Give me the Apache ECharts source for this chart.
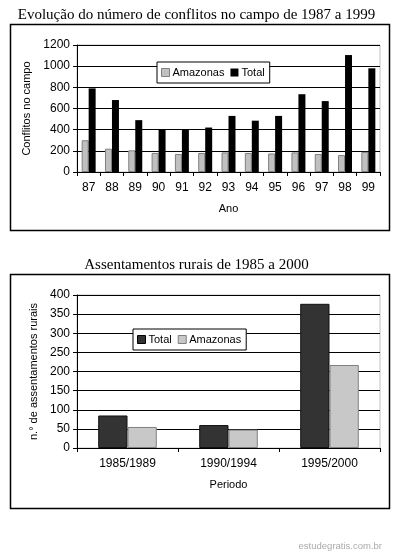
<!DOCTYPE html>
<html><head><meta charset="utf-8">
<script src="https://cdn.jsdelivr.net/npm/echarts@6/dist/echarts.min.js"></script>
<style>html,body{margin:0;padding:0;background:#fff}#c{width:393px;height:554px}</style>
</head><body><div id="c"></div>
<script>
var years = ['87','88','89','90','91','92','93','94','95','96','97','98','99'];
var conflitosAmazonas = [300,220,205,180,170,180,185,180,175,185,170,160,190];
var conflitosTotal = [790,680,490,400,400,420,530,485,530,735,670,1105,980];
var yTicks1 = {min:0, max:1200, interval:200};

var periodos = ['1985/1989','1990/1994','1995/2000'];
var assentTotal = [85,60,377];
var assentAmazonas = [55,48,217];
var yTicks2 = {min:0, max:400, interval:50};

var sans = 'Liberation Sans, Arial, sans-serif';
var serif = 'Liberation Serif, Times New Roman, serif';
var chart = echarts.init(document.getElementById('c'), null, {renderer:'canvas'});

function yAx(idx, t, name, gap){
  return {gridIndex:idx, type:'value', min:t.min, max:t.max, interval:t.interval,
    name:name, nameLocation:'middle', nameGap:gap, nameRotate:90,
    nameTextStyle:{fontFamily:sans, fontSize:11, color:'#000'},
    axisLine:{show:true, lineStyle:{color:'#000', width:1}},
    axisTick:{show:true, length:4, lineStyle:{color:'#000'}},
    axisLabel:{fontFamily:sans, fontSize:12, color:'#000', margin:7, formatter:function(v){return String(v);}},
    splitLine:{show:true, lineStyle:{color:'#000', width:1}}};
}
function xAx(idx, data, name, gap){
  return {gridIndex:idx, type:'category', data:data, name:name, nameLocation:'middle', nameGap:gap,
    nameTextStyle:{fontFamily:sans, fontSize:11, color:'#000'},
    axisLine:{show:true, lineStyle:{color:'#000', width:1}},
    axisTick:{show:true, length:4, lineStyle:{color:'#000'}},
    axisLabel:{fontFamily:sans, fontSize:12, color:'#000', margin:10}};
}

chart.setOption({
  backgroundColor:'#fff',
  animation:false,
  title:[
    {text:'Evolução do número de conflitos no campo de 1987 a 1999', left:'center', top:3,
     textStyle:{fontFamily:serif, fontSize:15, fontWeight:'normal', color:'#000'}},
    {text:'Assentamentos rurais de 1985 a 2000', left:'center', top:253,
     textStyle:{fontFamily:serif, fontSize:15, fontWeight:'normal', color:'#000'}}
  ],
  graphic:[
    {type:'rect', shape:{x:10.5, y:24.5, width:379, height:206}, style:{fill:null, stroke:'#000', lineWidth:1.5}, z:-1},
    {type:'rect', shape:{x:10.5, y:274.5, width:379, height:234}, style:{fill:null, stroke:'#000', lineWidth:1.5}, z:-1},
    {type:'text', right:11, top:541, style:{text:'estudegratis.com.br', fill:'#aaaaaa', font:'9.5px Liberation Sans, Arial, sans-serif'}}
  ],
  grid:[
    {left:77, top:45, width:303, height:127, show:true, borderColor:'#c0c0c0', borderWidth:1, backgroundColor:'#fff'},
    {left:77, top:295, width:303, height:153, show:true, borderColor:'#c0c0c0', borderWidth:1, backgroundColor:'#fff'}
  ],
  legend:[
    {left:157, top:62, orient:'horizontal', padding:[5,5,5,4], itemGap:6, itemWidth:8, itemHeight:8,
     borderColor:'#000', borderWidth:1, backgroundColor:'#fff', icon:'rect',
     textStyle:{fontFamily:sans, fontSize:11, color:'#000', padding:[0,0,0,-2]},
     data:[{name:'Amazonas', itemStyle:{color:'#c0c0c0', borderColor:'#808080', borderWidth:1}},
           {name:'Total', itemStyle:{color:'#000'}}]},
    {left:133, top:329, orient:'horizontal', padding:[5,5,5,4], itemGap:6, itemWidth:8, itemHeight:8,
     borderColor:'#000', borderWidth:1, backgroundColor:'#fff', icon:'rect',
     textStyle:{fontFamily:sans, fontSize:11, color:'#000', padding:[0,0,0,-2]},
     data:[{name:'Total', itemStyle:{color:'#333', borderColor:'#000', borderWidth:1}},
           {name:'Amazonas', itemStyle:{color:'#c8c8c8', borderColor:'#808080', borderWidth:1}}]}
  ],
  xAxis:[xAx(0, years, 'Ano', 31), xAx(1, periodos, 'Periodo', 31)],
  yAxis:[yAx(0, yTicks1, 'Conflitos no campo', 34), yAx(1, yTicks2, 'n.° de assentamentos rurais', 32)],
  series:[
    {name:'Amazonas', type:'bar', xAxisIndex:0, yAxisIndex:0, data:conflitosAmazonas,
     barGap:'0%', barCategoryGap:'40%', itemStyle:{color:'#c0c0c0', borderColor:'#808080', borderWidth:1}},
    {name:'Total', type:'bar', xAxisIndex:0, yAxisIndex:0, data:conflitosTotal,
     barGap:'0%', barCategoryGap:'40%', itemStyle:{color:'#000'}},
    {name:'Total', type:'bar', xAxisIndex:1, yAxisIndex:1, data:assentTotal,
     barGap:'0%', barCategoryGap:'42%', itemStyle:{color:'#333', borderColor:'#111', borderWidth:1}},
    {name:'Amazonas', type:'bar', xAxisIndex:1, yAxisIndex:1, data:assentAmazonas,
     barGap:'0%', barCategoryGap:'42%', itemStyle:{color:'#c8c8c8', borderColor:'#808080', borderWidth:1}}
  ]
});
</script></body></html>
